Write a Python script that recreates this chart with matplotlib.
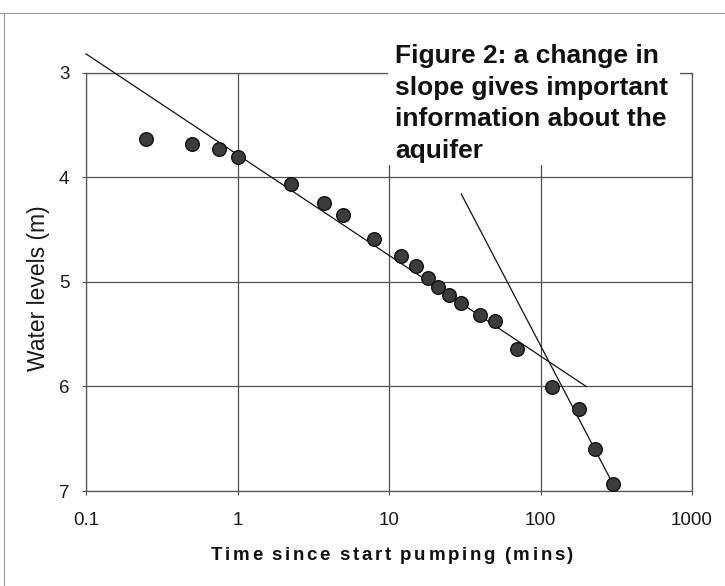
#! /usr/bin/env python3

import matplotlib
matplotlib.use('Agg')
import matplotlib.pyplot as plt
from matplotlib.patches import Rectangle
from matplotlib.lines import Line2D
from matplotlib.offsetbox import TextArea, HPacker, AnchoredOffsetbox

plt.rcParams['font.family'] = ['Liberation Sans', 'DejaVu Sans']

# pumping test readings
time_min = [0.25, 0.5, 0.75, 1, 2.25, 3.75, 5, 8, 12, 15, 18, 21, 25, 30, 40, 50, 70,
            120, 180, 230, 300]
level_m = [3.63, 3.68, 3.73, 3.81, 4.06, 4.25, 4.36, 4.59, 4.75, 4.85, 4.96, 5.05, 5.13,
           5.20, 5.32, 5.37, 5.64, 6.01, 6.22, 6.60, 6.93]

# hand drawn straight lines
early_x = [0.1, 200]
early_y = [2.82, 6.0]
late_x = [30, 300]
late_y = [4.16, 6.93]

xticks = [0.1, 1, 10, 100, 1000]
xticklabels = ['0.1', '1', '10', '100', '1000']
yticks = [3, 4, 5, 6, 7]

title = 'Figure 2: a change in\nslope gives important\ninformation about the\naquifer'
xlabel = 'Time since start pumping (mins)'
ylabel = 'Water levels (m)'

W, H = 725, 586
fig = plt.figure(figsize=(W / 100, H / 100), dpi=100)
ax = fig.add_axes([86 / W, 1 - 491 / H, 606 / W, (491 - 72.7) / H])

ax.set_xscale('log')
ax.set_xlim(0.1, 1000)
ax.set_ylim(7, 3)
ax.set_xticks(xticks)
ax.set_xticklabels(xticklabels)
ax.set_yticks(yticks)
ax.minorticks_off()
ax.grid(True, color='#505050', lw=0.9)
ax.set_axisbelow(True)
for s in ax.spines.values():
    s.set_color('#555555')
    s.set_linewidth(0.9)
ax.tick_params(axis='both', length=3, width=0.8, color='#555555',
               labelsize=13.5, labelcolor='#1a1a1a')
ax.tick_params(axis='x', pad=12)
ax.tick_params(axis='y', pad=9)

ax.plot(early_x, early_y, '-', color='#111111', lw=0.9, zorder=3, clip_on=False)
ax.plot(late_x, late_y, '-', color='#111111', lw=0.9, zorder=3, clip_on=False)
ax.plot(time_min, level_m, 'o', ms=9.8, mfc='#3c3c3c', mec='#111111', mew=1.0,
        zorder=4, clip_on=False)

# white box behind the caption, hiding the grid
fig.patches.append(Rectangle((388 / W, 1 - 165 / H), 292 / W, 145 / H,
                             transform=fig.transFigure, facecolor='white',
                             edgecolor='none', zorder=5))
fig.text(395 / W, 1 - 44 / H, title, ha='left', va='top', fontsize=19,
         fontweight='bold', color='#111111', linespacing=1.4, zorder=6)

fig.text(39 / W, 1 - 288 / H, ylabel, rotation=90, ha='center', va='center',
         fontsize=16.5, color='#1a1a1a')

# x label is letter spaced in the original
words = []
for w in xlabel.split(' '):
    chars = [TextArea(c, textprops=dict(fontsize=13.5, fontweight='bold', color='#111111'))
             for c in w]
    words.append(HPacker(children=chars, align='baseline', pad=0, sep=1.9))
label_box = HPacker(children=words, align='baseline', pad=0, sep=6.9)
fig.add_artist(AnchoredOffsetbox(loc='center', child=label_box, pad=0, borderpad=0,
                                 frameon=False, bbox_to_anchor=(392 / W, 1 - 555 / H),
                                 bbox_transform=fig.transFigure))

# edges of the scanned page
fig.add_artist(Line2D([0, 1], [1 - 13 / H, 1 - 13 / H], transform=fig.transFigure,
                      color='#9a9a9a', lw=0.8))
fig.add_artist(Line2D([4 / W, 4 / W], [0, 1 - 13 / H], transform=fig.transFigure,
                      color='#9a9a9a', lw=0.8))

fig.savefig('out.png', dpi=100)
